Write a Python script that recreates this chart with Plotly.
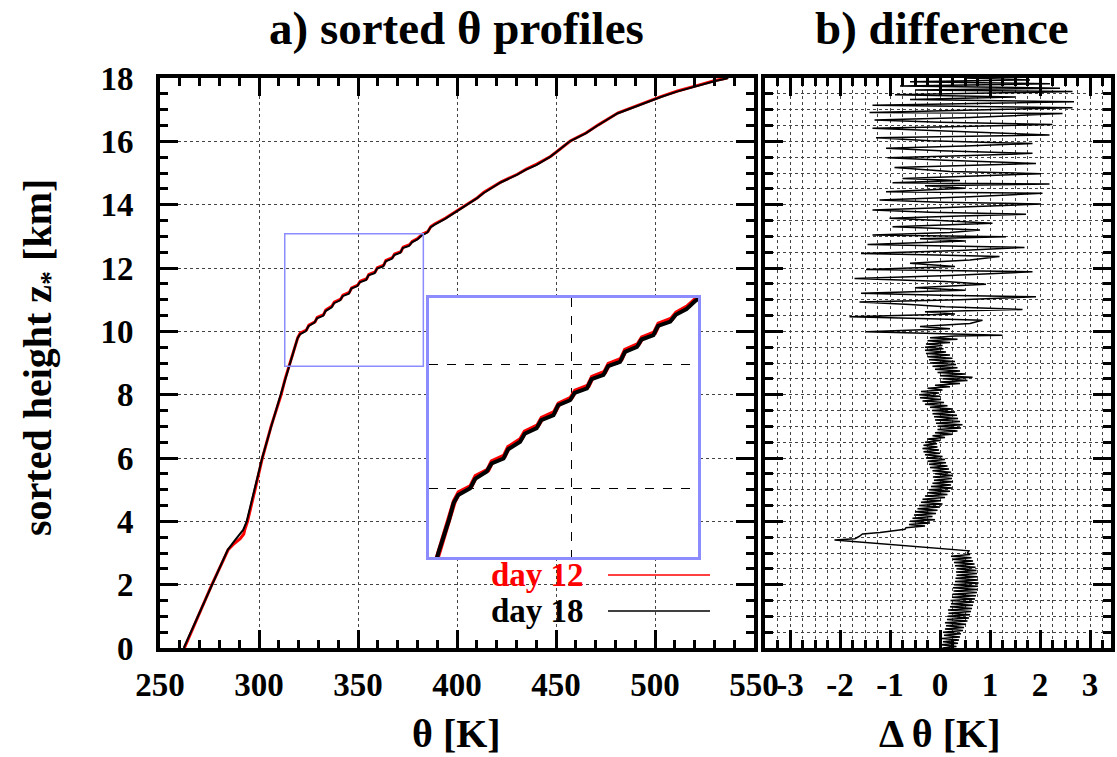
import numpy as np
import plotly.graph_objects as go

# ---------------- panel a: sorted theta profiles ----------------
z_day18 = [0.0, 1.0, 2.0, 3.1, 3.4, 3.73, 4.0, 5.0, 6.0, 7.0, 8.0, 8.5, 9.0, 9.5,
           9.77, 9.90, 10.01, 10.16, 10.28, 10.41, 10.49, 10.64, 10.76, 10.89, 10.98,
           11.11, 11.19, 11.35, 11.43, 11.55, 11.62, 11.77, 11.84, 11.98, 12.05, 12.21,
           12.29, 12.41, 12.48, 12.63, 12.70, 12.81, 12.90, 13.04, 13.12, 13.28, 13.36,
           13.55, 13.78, 14.00, 14.20, 14.36, 14.55, 14.70, 14.94, 15.10, 15.25,
           15.51, 15.70, 16.00, 16.25, 16.50, 16.88, 17.05, 17.25, 17.40, 17.57, 17.70,
           17.78, 17.90, 17.97, 18.00]
theta_day18 = [262.0, 269.2, 276.3, 284.2, 287.8, 292.0, 293.8, 297.8, 301.6, 306.2, 311.0, 313.3, 315.6, 318.2,
               319.4, 320.6, 323.7, 325.0, 328.0, 329.3, 332.4, 333.6, 336.7, 337.9, 341.0,
               342.2, 345.4, 346.6, 349.7, 350.9, 354.1, 355.3, 358.4, 359.6, 362.7, 364.0,
               367.1, 368.3, 371.4, 372.6, 375.8, 377.2, 380.0, 382.4, 385.0, 386.6, 388.5,
               394.0, 399.8, 405.0, 410.0, 413.3, 418.2, 422.0, 430.2, 434.6, 440.0,
               447.0, 451.0, 457.0, 465.0, 471.0, 481.0, 488.0, 497.0, 503.0, 511.0, 518.0,
               523.0, 530.0, 535.0, 537.0]

z_day12 = [0.0, 1.0, 2.0, 3.1, 3.3, 3.45, 3.6, 3.73, 4.0, 5.0, 6.0, 7.0, 8.0, 8.5, 9.0, 9.5,
           9.80, 9.94, 10.04, 10.20, 10.30, 10.44, 10.53, 10.67, 10.80, 10.92, 11.02,
           11.14, 11.23, 11.37, 11.46, 11.58, 11.66, 11.80, 11.88, 12.01, 12.09, 12.24,
           12.33, 12.44, 12.52, 12.66, 12.74, 12.84, 12.94, 13.07, 13.15, 13.31, 13.39,
           13.58, 13.82, 14.03, 14.22, 14.39, 14.57, 14.72, 14.96, 15.12, 15.28,
           15.53, 15.72, 16.02, 16.27, 16.52, 16.90, 17.07, 17.27, 17.42, 17.59, 17.72,
           17.80, 17.92, 17.98, 18.00]
theta_day12 = [262.3, 269.3, 276.2, 284.4, 287.5, 290.5, 292.3, 292.8, 294.2, 298.0, 301.7, 306.1, 311.2, 313.2, 315.7, 318.3,
               319.6, 320.8, 323.9, 325.2, 328.3, 329.4, 332.6, 333.7, 336.9, 338.0, 341.3,
               342.4, 345.6, 346.8, 349.9, 351.1, 354.4, 355.5, 358.7, 359.8, 363.0, 364.1,
               367.4, 368.5, 371.7, 372.8, 376.1, 377.4, 380.3, 382.6, 385.3, 386.8, 388.7,
               394.3, 400.1, 405.2, 410.3, 413.6, 418.6, 422.3, 430.5, 435.0, 440.3,
               447.4, 451.3, 457.4, 465.3, 471.4, 481.4, 488.3, 497.4, 503.3, 511.4, 518.3,
               523.4, 530.3, 535.3, 536.5]

# zoom window shown in the inset
inset_theta_range = [313.0, 383.0]
inset_z_range = [8.9, 13.08]

# ---------------- panel b: difference theta(day18) - theta(day12) ----------------
# boundary layer: sampled every 0.05 km from 0 to 3 km
z_pbl = np.round(np.arange(0.0, 3.0001, 0.05), 2)
dtheta_pbl = [0.05, 0.33, 0.02, 0.36, 0.06, 0.38, 0.04, 0.40, 0.08, 0.42,
              0.06, 0.46, 0.10, 0.48, 0.12, 0.52, 0.10, 0.55, 0.14, 0.58,
              0.15, 0.60, 0.17, 0.62, 0.16, 0.64, 0.20, 0.66, 0.22, 0.68,
              0.21, 0.70, 0.24, 0.72, 0.25, 0.74, 0.27, 0.75, 0.26, 0.76,
              0.28, 0.77, 0.30, 0.76, 0.31, 0.75, 0.33, 0.74, 0.32, 0.73,
              0.33, 0.71, 0.30, 0.69, 0.28, 0.66, 0.25, 0.63, 0.22, 0.60,
              0.55]
# inversion jump
z_jump = [3.07, 3.41, 3.45, 3.52, 3.60, 3.65, 3.75]
dtheta_jump = [0.58, -2.11, -1.70, -1.62, -1.55, -1.20, -0.70]
# free troposphere: sampled every 0.05 km from 3.8 to 9.8 km
z_trop = np.round(np.arange(3.8, 9.8001, 0.05), 2)
dtheta_trop = [-0.68, -0.30, -0.62, -0.20, -0.60, -0.10, -0.55, -0.15, -0.52, -0.08,
               -0.50, -0.05, -0.45, 0.00, -0.42, 0.05, -0.38, 0.02, -0.35, 0.10,
               -0.30, 0.15, -0.25, 0.20, -0.22, 0.25, -0.18, 0.22, -0.15, 0.26,
               -0.12, 0.24, -0.14, 0.25, -0.10, 0.22, -0.15, 0.18, -0.20, 0.15,
               -0.22, 0.12, -0.25, 0.10, -0.28, 0.05, -0.30, 0.00, -0.33, -0.02,
               -0.35, -0.05, -0.33, -0.06, -0.30, 0.00, -0.25, 0.10, -0.15, 0.25,
               -0.10, 0.35, -0.05, 0.42, -0.05, 0.45, -0.08, 0.40, -0.10, 0.36,
               -0.12, 0.34, -0.15, 0.30, -0.16, 0.25, -0.20, 0.15, -0.30, 0.08,
               -0.35, 0.02, -0.40, 0.00, -0.42, -0.02, -0.38, 0.05, -0.25, 0.20,
               -0.10, 0.40, 0.00, 0.55, 0.05, 0.65, 0.00, 0.50, -0.05, 0.40,
               -0.10, 0.35, -0.15, 0.32, -0.20, 0.30, -0.22, 0.25, -0.25, 0.20,
               -0.28, 0.12, -0.30, 0.07, -0.30, 0.05, -0.28, 0.20, -0.25, 0.35,
               -0.20]
# stratosphere: irregular levels
z_strat = [9.85, 9.88, 9.93, 9.99, 10.08, 10.15, 10.25, 10.35, 10.40, 10.46, 10.55, 10.62,
           10.69, 10.78, 10.85, 10.93, 11.00, 11.09, 11.14, 11.20, 11.30, 11.38, 11.49,
           11.57, 11.67, 11.76, 11.88, 11.92, 11.95, 12.05, 12.15, 12.25, 12.36, 12.42,
           12.46, 12.55, 12.65, 12.70, 12.74, 12.85, 12.92, 12.99, 13.04, 13.12, 13.20,
           13.30, 13.41, 13.50, 13.57, 13.64, 13.70, 13.76, 13.83, 13.92, 14.02, 14.08,
           14.15, 14.25, 14.36, 14.41, 14.52, 14.60, 14.65, 14.69, 14.76, 14.83, 14.98,
           15.05, 15.17, 15.24, 15.30, 15.40, 15.48, 15.55, 15.62, 15.70, 15.78, 15.85,
           15.93, 16.02, 16.11, 16.20, 16.30, 16.41, 16.47, 16.53, 16.60, 16.67, 16.75,
           16.88, 16.91, 16.98, 17.06, 17.14, 17.20, 17.25, 17.32, 17.40, 17.47, 17.57,
           17.62, 17.68, 17.75, 17.82, 17.88, 17.94, 18.00]
dtheta_strat = [0.30, 1.25, 0.10, -1.48, 0.20, -0.40, 0.60, 0.85, -0.20, -1.81, 0.30, -0.30,
                1.65, 0.10, -0.60, -1.61, 0.40, 1.92, 0.00, -1.58, 0.50, -0.50, 0.92,
                0.10, -1.71, 0.20, 1.85, -0.20, -1.48, 0.30, -0.60, 0.60, 1.19, -0.30,
                -1.58, 0.40, 1.69, -0.10, -1.45, 0.50, -0.40, 1.32, -1.35, 0.20, 0.80,
                -0.95, 1.05, 0.00, -1.01, 0.40, 1.72, -0.20, -1.35, 0.30, 2.02, 0.00,
                -1.21, 0.60, 2.05, -1.08, 0.50, -0.30, 2.19, -0.95, 0.40, -0.75, 2.02,
                0.20, -0.91, 0.50, 1.92, 0.10, -1.05, 0.60, 1.85, 0.00, -1.08, 0.50,
                1.85, -0.20, -1.28, 2.19, 0.30, -1.35, 0.40, 2.25, 0.00, -1.31, 0.60,
                2.45, -1.41, 0.50, 2.65, -1.35, 0.80, 2.68, -0.60, 1.50, -0.90, 2.65,
                -0.50, 2.40, -0.80, 2.20, -0.60, 1.80, 0.50]

z_diff = list(z_pbl) + z_jump + list(z_trop) + z_strat
dtheta_diff = dtheta_pbl + dtheta_jump + dtheta_trop + dtheta_strat

# tick labels of panel b (plain hyphen minus as in the original)
diff_tickvals = [-3, -2, -1, 0, 1, 2, 3]
diff_ticktext = ["-3", "-2", "-1", "0", "1", "2", "3"]

# ---------------- styling ----------------
W, H = 1117, 757
FONT = "Liberation Serif, Times New Roman, serif"
RED = "#ff0000"
BLUE = "#8c8cff"
GRIDC = "#444444"

def px_x(a, b):
    return [a / W, b / W]

def px_y(top, bottom):
    return [(H - bottom) / H, (H - top) / H]

fig = go.Figure()

# main panel traces
fig.add_trace(go.Scatter(x=theta_day12, y=z_day12, mode="lines", line=dict(color=RED, width=3),
                         xaxis="x", yaxis="y", showlegend=False))
fig.add_trace(go.Scatter(x=theta_day18, y=z_day18, mode="lines", line=dict(color="black", width=2),
                         xaxis="x", yaxis="y", showlegend=False))
# difference panel
fig.add_trace(go.Scatter(x=dtheta_diff, y=z_diff, mode="lines", line=dict(color="black", width=1.5),
                         xaxis="x2", yaxis="y2", showlegend=False))
# inset traces
fig.add_trace(go.Scatter(x=theta_day12, y=z_day12, mode="lines", line=dict(color=RED, width=5),
                         xaxis="x3", yaxis="y3", showlegend=False))
fig.add_trace(go.Scatter(x=theta_day18, y=z_day18, mode="lines", line=dict(color="black", width=4),
                         xaxis="x3", yaxis="y3", showlegend=False))

tickfont = dict(family=FONT, size=33, color="black", weight="bold")
frame = dict(showline=True, linecolor="black", linewidth=4, mirror="allticks",
             ticks="inside", tickcolor="black", tickwidth=3, ticklen=18, zeroline=False,
             automargin=False)
minor_t = dict(ticks="inside", ticklen=8, tickwidth=3, tickcolor="black")
dotgrid = dict(showgrid=True, gridcolor=GRIDC, griddash="dot", gridwidth=1)

fig.update_layout(
    width=W, height=H, autosize=False,
    margin=dict(l=0, r=0, t=0, b=0, pad=0, autoexpand=False),
    paper_bgcolor="white", plot_bgcolor="white",
    font=dict(family=FONT, color="black"),
    xaxis=dict(domain=px_x(160, 754), anchor="y", range=[250, 550], dtick=50, tick0=250,
               tickfont=tickfont, ticklabelstandoff=4,
               minor=dict(dtick=10, showgrid=False, **minor_t),
               **dotgrid, **frame),
    yaxis=dict(domain=px_y(78, 648), anchor="x", range=[0, 18], dtick=2,
               tickfont=tickfont, ticklabelstandoff=16,
               minor=dict(dtick=0.5, showgrid=False, **minor_t),
               **dotgrid, **frame),
    xaxis2=dict(domain=px_x(765, 1111), anchor="y2", range=[-3.5, 3.42],
                tickmode="array", tickvals=diff_tickvals, ticktext=diff_ticktext,
                tickfont=tickfont, ticklabelstandoff=4,
                minor=dict(tickmode="linear", tick0=0, dtick=0.25, **minor_t, **dotgrid),
                **dotgrid, **frame),
    yaxis2=dict(domain=px_y(78, 648), anchor="x2", range=[0, 18], dtick=2, showticklabels=False,
                minor=dict(dtick=0.5, **minor_t, **dotgrid),
                **dotgrid, **frame),
    xaxis3=dict(domain=px_x(429, 698), anchor="y3", range=inset_theta_range, dtick=50, tick0=250,
                showline=True, linecolor=BLUE, linewidth=3, mirror=True, ticks="",
                showticklabels=False, zeroline=False, automargin=False,
                showgrid=True, gridcolor="black", griddash="dash", gridwidth=1),
    yaxis3=dict(domain=px_y(298, 557), anchor="x3", range=inset_z_range, dtick=2, tick0=0,
                showline=True, linecolor=BLUE, linewidth=3, mirror=True, ticks="",
                showticklabels=False, zeroline=False, automargin=False,
                showgrid=True, gridcolor="black", griddash="dash", gridwidth=1),
)

# zoom-window box on main panel
fig.add_shape(type="rect", xref="x", yref="y",
              x0=inset_theta_range[0], x1=inset_theta_range[1],
              y0=inset_z_range[0], y1=inset_z_range[1],
              line=dict(color=BLUE, width=1.5), layer="above")

# legend (text left of line, as in the original)
legend_items = [("day 12", RED, 575), ("day 18", "black", 611)]
for label, col, ypx in legend_items:
    fig.add_annotation(x=586 / W, y=(H - ypx) / H, xref="paper", yref="paper", text=label,
                       showarrow=False, xanchor="right", yanchor="middle",
                       font=dict(family=FONT, size=33, color=col, weight="bold"))
    fig.add_shape(type="line", xref="paper", yref="paper", x0=608 / W, x1=710 / W,
                  y0=(H - ypx) / H, y1=(H - ypx) / H, line=dict(color=col, width=1.5))

# titles
big = dict(family=FONT, size=47, color="black", weight="bold")
fig.add_annotation(x=456 / W, y=(H - 28) / H, xref="paper", yref="paper", text="a) sorted θ profiles",
                   showarrow=False, xanchor="center", yanchor="middle", font=big)
fig.add_annotation(x=942 / W, y=(H - 28) / H, xref="paper", yref="paper", text="b) difference",
                   showarrow=False, xanchor="center", yanchor="middle", font=big)
lab = dict(family=FONT, size=40, color="black", weight="bold")
fig.add_annotation(x=456 / W, y=(H - 733) / H, xref="paper", yref="paper", text="θ [K]",
                   showarrow=False, xanchor="center", yanchor="middle", font=lab)
fig.add_annotation(x=940 / W, y=(H - 733) / H, xref="paper", yref="paper", text="Δ θ [K]",
                   showarrow=False, xanchor="center", yanchor="middle", font=lab)
fig.add_annotation(x=40 / W, y=(H - 358) / H, xref="paper", yref="paper",
                   text="sorted height z<sub>*</sub> [km]", textangle=-90,
                   showarrow=False, xanchor="center", yanchor="middle", font=lab)

fig.write_html("out.html")
